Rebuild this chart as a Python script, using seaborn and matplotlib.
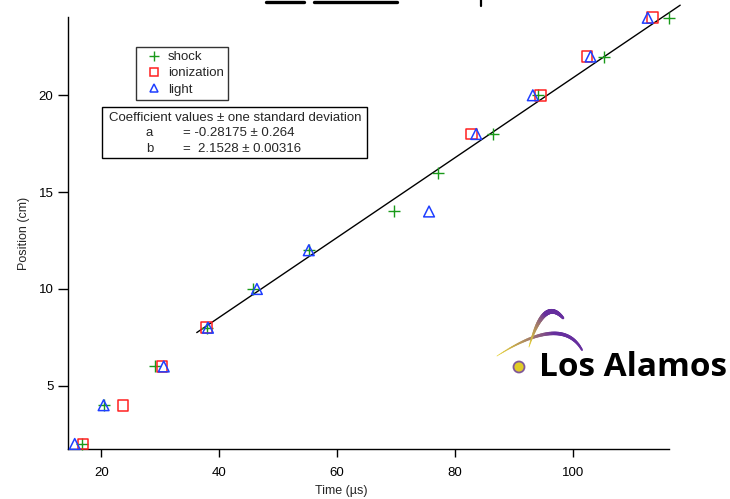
import numpy as np
import pandas as pd
import seaborn as sns
import matplotlib.pyplot as plt
from matplotlib.lines import Line2D
from matplotlib.patches import Rectangle, Ellipse
from matplotlib.collections import LineCollection

# data
shock_time = [16.7, 20.4, 29.1, 37.9, 45.7, 55.2, 69.7, 77.2, 86.5, 94.0, 105.3, 116.3]
shock_pos = [2.0, 4.0, 6.0, 8.0, 10.0, 12.0, 14.0, 16.0, 18.0, 20.0, 22.0, 24.0]
ion_time = [16.9, 23.7, 30.3, 37.9, 82.8, 94.5, 102.4, 113.5]
ion_pos = [2.0, 4.0, 6.0, 8.0, 18.0, 20.0, 22.0, 24.0]
light_time = [15.5, 20.4, 30.6, 38.1, 46.4, 55.2, 75.6, 83.6, 93.2, 103.0, 112.7]
light_pos = [2.0, 4.0, 6.0, 8.0, 10.0, 12.0, 14.0, 18.0, 20.0, 22.0, 24.0]
fit_time = [36.2, 118.2]
fit_pos = [7.75, 24.65]

coef_header = "Coefficient values \u00b1 one standard deviation"
coef_names = ["a", "b"]
coef_values = ["= -0.28175 \u00b1 0.264", "=  2.1528 \u00b1 0.00316"]

W, H = 730, 499
FS = 9.5

sns.set_style("ticks")
plt.rcParams['font.family'] = ['Liberation Sans', 'DejaVu Sans']

fig = plt.figure(figsize=(W / 100, H / 100), dpi=100)
ax = fig.add_axes([68 / W, 1 - 449 / H, (669 - 68) / W, (449 - 17) / H])

green, red, blue = '#1a9a1a', '#ff2020', '#1f3fff'

ax.plot(fit_time, fit_pos, color='black', lw=1, clip_on=False)
sns.scatterplot(x=shock_time, y=shock_pos, marker='+', s=70, color=green,
                linewidth=1, ax=ax, clip_on=False, zorder=3)
sns.scatterplot(x=ion_time, y=ion_pos, marker='s', s=60, facecolors='none',
                edgecolor=red, linewidth=1.1, ax=ax, clip_on=False, zorder=3)
sns.scatterplot(x=light_time, y=light_pos, marker='^', s=60, facecolors='none',
                edgecolor=blue, linewidth=1.1, ax=ax, clip_on=False, zorder=3)

ax.set_xlim(14.36, 116.3)
ax.set_ylim(1.74, 24.04)
ax.set_xticks([20, 40, 60, 80, 100])
ax.set_yticks([5, 10, 15, 20])
ax.tick_params(direction='out', width=1, labelsize=FS, colors='black')
ax.tick_params(axis='x', length=6, pad=7)
ax.tick_params(axis='y', length=7, pad=3.5)
sns.despine(ax=ax)
for s in ['left', 'bottom']:
    ax.spines[s].set_linewidth(1)
    ax.spines[s].set_color('black')
ax.set_xlabel("Time (\u00b5s)", fontsize=9)
ax.set_ylabel("Position (cm)", fontsize=9)
ax.xaxis.set_label_coords((341 - 68) / 601, -0.084)
ax.yaxis.set_label_coords(-0.063, 0.5)

# legend
handles = [
    Line2D([], [], ls='none', marker='+', color=green, ms=7, mew=1),
    Line2D([], [], ls='none', marker='s', mfc='none', mec=red, ms=6, mew=1.1),
    Line2D([], [], ls='none', marker='^', mfc='none', mec=blue, ms=6, mew=1.1),
]
leg = fig.legend(handles, ["shock", "ionization", "light"], loc='upper left',
                 bbox_to_anchor=(136 / W, 1 - 47 / H), borderaxespad=0,
                 fontsize=FS, frameon=True, fancybox=False, handlelength=2.1,
                 handletextpad=0.0, labelspacing=0.3, borderpad=0.3)
leg.get_frame().set_edgecolor('black')
leg.get_frame().set_linewidth(1)

# coefficient box
def fx(px):
    return px / W

def fy(py):
    return 1 - py / H

fig.add_artist(Rectangle((fx(102), fy(158)), fx(367) - fx(102), fy(107) - fy(158),
                         transform=fig.transFigure, fill=False, ec='black', lw=1))
fig.text(fx(235), fy(118), coef_header, ha='center', va='center', fontsize=FS)
for i, (n, v) in enumerate(zip(coef_names, coef_values)):
    fig.text(fx(146), fy(133 + 16 * i), n, ha='left', va='center', fontsize=FS)
    fig.text(fx(183), fy(133 + 16 * i), v, ha='left', va='center', fontsize=FS)

# cut off title remnants at the top
for x0, x1 in [(266, 304), (314, 397)]:
    fig.add_artist(Line2D([fx(x0), fx(x1)], [fy(2), fy(2)], transform=fig.transFigure,
                          color='black', lw=2.4))
fig.add_artist(Line2D([fx(481), fx(481)], [fy(0), fy(6)], transform=fig.transFigure,
                      color='black', lw=1.6))

# Los Alamos logo
fig.text(fx(539), fy(376), "Los Alamos", ha='left', va='baseline', fontsize=24,
         fontweight='bold', family='Open Sans', color='black')

def swoosh(p0, p1, p2, c0, c1, w0, w1, n=60):
    t = np.linspace(0, 1, n)[:, None]
    pts = (1 - t) ** 2 * np.array(p0) + 2 * (1 - t) * t * np.array(p1) + t ** 2 * np.array(p2)
    pts = np.column_stack([fx(pts[:, 0]), fy(pts[:, 1])])
    segs = np.stack([pts[:-1], pts[1:]], axis=1)
    tt = np.linspace(0, 1, n - 1)[:, None]
    mix = np.clip(tt * 1.8, 0, 1)
    cols = (1 - mix) * np.array(c0) + mix * np.array(c1)
    widths = w0 + (w1 - w0) * np.sin(np.pi * tt[:, 0] * 0.85)
    lc = LineCollection(segs, colors=cols, linewidths=widths, transform=fig.transFigure,
                        capstyle='round')
    fig.add_artist(lc)

yellow = (0.9, 0.82, 0.2)
purple = (0.4, 0.18, 0.62)
swoosh((497, 356), (562, 314), (582, 350), yellow, purple, 0.5, 2.6)
swoosh((529, 347), (544, 296), (563, 318), yellow, purple, 0.6, 3.6)
fig.add_artist(Ellipse((fx(519), fy(367)), 11 / W, 11 / H, transform=fig.transFigure,
                       fc=(0.88, 0.8, 0.15), ec=(0.5, 0.35, 0.6), lw=1.3))

fig.savefig("out.png", dpi=100)
